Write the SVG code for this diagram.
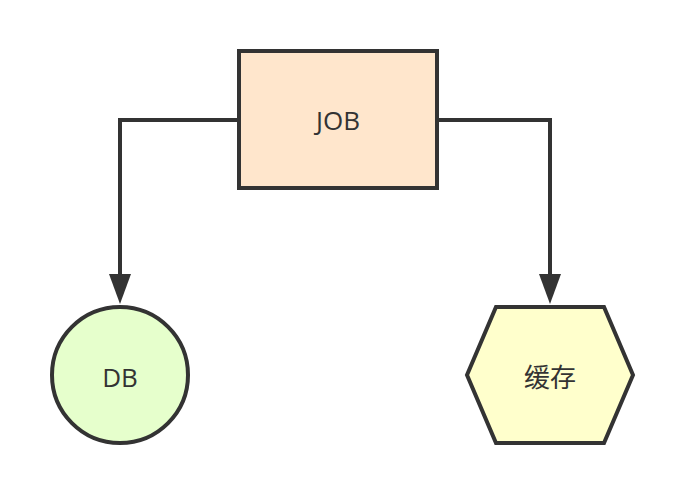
<svg xmlns="http://www.w3.org/2000/svg" width="684" height="496" viewBox="0 0 684 496">
  <defs>
    <style>
      .shape { stroke: #333333; stroke-width: 4; }
      .edge { fill: none; stroke: #333333; stroke-width: 4; }
      .label { font-family: "Open Sans", "Noto Sans", "Noto Sans CJK SC", sans-serif; font-size: 26px; fill: #333333; text-anchor: middle; }
    </style>
    <marker id="arrow" markerUnits="userSpaceOnUse" markerWidth="30" markerHeight="22" viewBox="0 0 30 22" refX="1" refY="11" orient="auto">
      <path d="M0,0 L30,11 L0,22 Z" fill="#333333"/>
    </marker>
  </defs>
  <rect width="684" height="496" fill="#ffffff"/>
  <g id="connectors">
    <path class="edge" d="M238,120 H120 V275" marker-end="url(#arrow)"/>
    <path class="edge" d="M438,120 H550 V275" marker-end="url(#arrow)"/>
  </g>
  <g id="job">
    <rect class="shape" x="239" y="51" width="198" height="137" fill="#ffe6cc"/>
    <text class="label" x="338" y="130">JOB</text>
  </g>
  <g id="db">
    <circle class="shape" cx="120" cy="375" r="68" fill="#e6ffcc"/>
    <text class="label" x="120" y="387">DB</text>
  </g>
  <g id="cache">
    <polygon class="shape" points="496,307 604,307 633,375 604,443 496,443 467,375" fill="#ffffcc"/>
    <text class="label" x="550" y="387">缓存</text>
  </g>
</svg>
